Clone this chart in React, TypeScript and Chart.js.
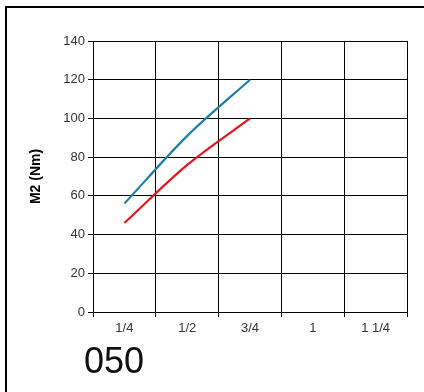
import React, { useEffect, useRef } from "react";
import { Chart, registerables } from "chart.js";

Chart.register(...registerables);

const categories = ["1/4", "1/2", "3/4", "1", "1 1/4"];
const blueSeries = [56, 91, 120, null, null];
const redSeries = [46, 76, 100, null, null];
const yTicks = [0, 20, 40, 60, 80, 100, 120, 140];
const yTitle = "M2 (Nm)";
const caption = "050";

export default function App() {
  const ref = useRef<HTMLCanvasElement | null>(null);

  useEffect(() => {
    if (!ref.current) return;
    const font = "'Liberation Sans', Arial, sans-serif";
    const chart = new Chart(ref.current, {
      type: "line",
      data: {
        labels: categories,
        datasets: [
          {
            label: "blue",
            data: blueSeries,
            borderColor: "#1f7ea6",
            borderWidth: 2.2,
            pointRadius: 0,
            tension: 0.3,
            fill: false,
          },
          {
            label: "red",
            data: redSeries,
            borderColor: "#e8141c",
            borderWidth: 2.2,
            pointRadius: 0,
            tension: 0.3,
            fill: false,
          },
        ],
      },
      options: {
        animation: false,
        responsive: false,
        maintainAspectRatio: false,
        layout: { padding: { left: 24, right: 17, top: 41, bottom: 50 } },
        plugins: {
          legend: { display: false },
          tooltip: { enabled: false },
          title: { display: false },
        },
        scales: {
          x: {
            type: "category",
            offset: true,
            grid: {
              offset: true,
              color: (ctx: any) => (ctx.index === categories.length ? "#999" : "#000"),
              lineWidth: 1,
              tickLength: 5,
            },
            border: { color: "#000", width: 1 },
            ticks: {
              color: "#333",
              font: { family: font, size: 13 },
              padding: 4,
              maxRotation: 0,
            },
            afterFit: (s: any) => {
              s.height = 30;
            },
          },
          y: {
            min: 0,
            max: 140,
            afterBuildTicks: (s: any) => {
              s.ticks = yTicks.map((v) => ({ value: v }));
            },
            grid: { color: "#000", lineWidth: 1, tickLength: 5 },
            border: { color: "#000", width: 1 },
            ticks: {
              color: "#333",
              font: { family: font, size: 13 },
              padding: 3,
            },
            title: {
              display: true,
              text: yTitle,
              color: "#000",
              font: { family: font, size: 14, weight: "bold" },
              padding: { top: 4, bottom: 4 },
            },
            afterFit: (s: any) => {
              s.width = 69;
            },
          },
        },
      },
    });
    return () => chart.destroy();
  }, []);

  return (
    <div style={{ position: "fixed", left: 0, top: 0, width: 424, height: 392, background: "#fff", overflow: "hidden" }}>
      <div
        style={{
          position: "absolute",
          left: 5,
          top: 6,
          width: 430,
          height: 400,
          borderLeft: "2px solid #000",
          borderTop: "2px solid #000",
        }}
      />
      <canvas ref={ref} width={424} height={392} style={{ position: "absolute", left: 0, top: 0 }} />
      <div
        style={{
          position: "absolute",
          left: 84,
          top: 341,
          fontFamily: "'Liberation Sans', Arial, sans-serif",
          fontSize: 36,
          lineHeight: "40px",
          color: "#111",
        }}
      >
        {caption}
      </div>
    </div>
  );
}
